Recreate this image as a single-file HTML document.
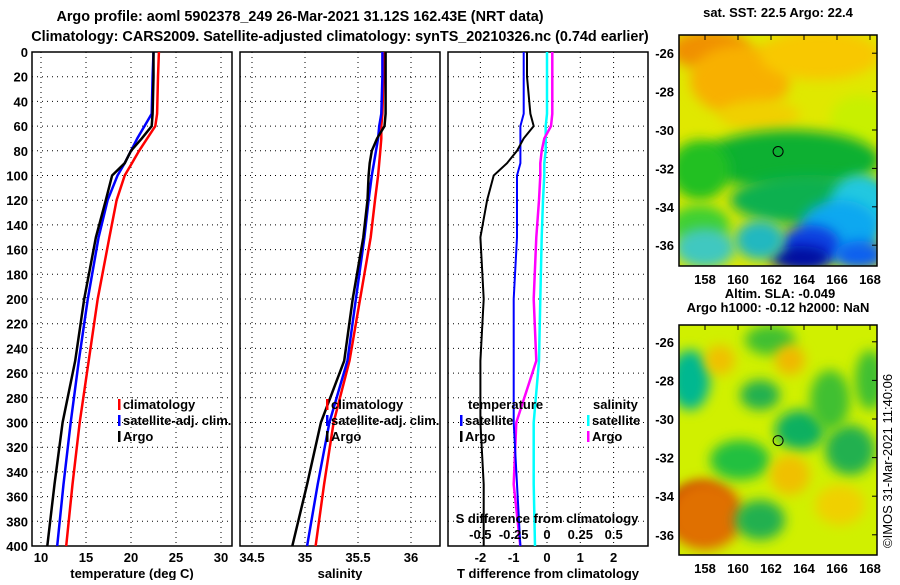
<!DOCTYPE html>
<html><head><meta charset="utf-8"><style>
body{margin:0;background:#fff;}
svg text{font-family:"Liberation Sans",sans-serif;font-weight:bold;font-size:13px;fill:#000;}
</style></head><body>
<svg id="c" width="900" height="580" xmlns="http://www.w3.org/2000/svg">
<text x="300" y="21" text-anchor="middle" style="font-size:14.4px">Argo profile: aoml 5902378_249 26-Mar-2021 31.12S 162.43E (NRT data)</text>
<text x="340" y="41" text-anchor="middle" style="font-size:14.4px">Climatology: CARS2009. Satellite-adjusted climatology: synTS_20210326.nc (0.74d earlier)</text>
<g id="maps"></g>
<g id="plots"></g>
</svg>
<script>
const depthTicks=[0,20,40,60,80,100,120,140,160,180,200,220,240,260,280,300,320,340,360,380,400];
const tTicks=[10,15,20,25,30];
const sTicks=[34.5,35,35.5,36];
const dTicks=[-2,-1,0,1,2];
const dsTicks=[-0.5,-0.25,0,0.25,0.5];
const tDepth=[0,20,50,60,70,80,90,100,120,150,200,250,300,350,400];
const tClim=[23.1,23.0,22.9,22.7,21.8,20.9,20.1,19.3,18.4,17.6,16.3,15.3,14.3,13.5,12.8];
const tSat=[22.5,22.4,22.3,21.5,20.7,20.0,19.3,18.5,17.4,16.4,15.2,14.2,13.3,12.5,11.8];
const tArgo=[22.5,22.5,22.4,22.3,21.2,20.0,19.3,17.9,17.2,16.1,14.8,13.8,12.4,11.5,10.7];
const sClim=[35.74,35.74,35.73,35.72,35.72,35.71,35.70,35.69,35.66,35.62,35.52,35.42,35.27,35.18,35.10];
const sSat=[35.73,35.73,35.72,35.70,35.69,35.67,35.65,35.63,35.60,35.56,35.48,35.40,35.23,35.12,35.02];
const sArgo=[35.76,35.76,35.76,35.75,35.68,35.63,35.61,35.60,35.59,35.55,35.45,35.37,35.15,35.02,34.88];
const dTsat=[-0.7,-0.7,-0.7,-0.8,-0.8,-0.8,-0.8,-0.9,-0.9,-0.9,-1.0,-1.0,-1.0,-0.9,-0.8];
const dTargo=[-0.6,-0.6,-0.5,-0.4,-0.7,-0.9,-1.2,-1.6,-1.8,-2.0,-1.9,-2.0,-2.0,-1.9,-1.9];
const dSsat=[0.0,0.0,0.0,-0.01,-0.01,-0.01,-0.02,-0.02,-0.03,-0.04,-0.05,-0.06,-0.1,-0.1,-0.09];
const dSargo=[0.04,0.04,0.04,0.03,-0.02,-0.04,-0.05,-0.05,-0.06,-0.08,-0.1,-0.08,-0.23,-0.25,-0.2];
const NS="http://www.w3.org/2000/svg";
const plots=document.getElementById('plots');
function el(t,a,p){const e=document.createElementNS(NS,t);for(const k in a)e.setAttribute(k,a[k]);(p||plots).appendChild(e);return e;}
const Y0=52,Y1=546;
const yD=d=>Y0+d*(Y1-Y0)/400;
function panel(name,x0,x1,ticks,xs,labels,xlabel){
  const g=el('g',{});
  
  
  el('rect',{x:x0,y:Y0,width:x1-x0,height:Y1-Y0,fill:'#fff',stroke:'#000','stroke-width':1.5},g);
  depthTicks.forEach(d=>{const l=el('line',{x1:x0,x2:x1,y1:yD(d),y2:yD(d),stroke:'#000','stroke-dasharray':'1,4'},g);
    });
  ticks.forEach((v,i)=>{const l=el('line',{x1:xs(v),x2:xs(v),y1:Y0,y2:Y1,stroke:'#000','stroke-dasharray':'1,4'},g);
    
    if(labels){const t=el('text',{x:xs(v),y:562,'text-anchor':'middle'},g);t.textContent=labels[i];
    }});
  const t=el('text',{x:(x0+x1)/2,y:578,'text-anchor':'middle'},g);t.textContent=xlabel;
  
  return g;
}
function line(g,vals,xs,col,w,name){
  const pts=vals.map((v,i)=>xs(v).toFixed(1)+','+yD(tDepth[i]).toFixed(1)).join(' ');
  const p=el('polyline',{points:pts,fill:'none',stroke:col,'stroke-width':w},g);
  
}
function legend(g,x,y,col,txt,name){
  el('rect',{x:x,y:y-10,width:2.5,height:11,fill:col},g);
  const t=el('text',{x:x+5,y:y},g);t.textContent=txt;
  
}
depthTicks.forEach(d=>{const t=el('text',{x:28,y:yD(d)+5,'text-anchor':'end'});t.textContent=d;
  });
const xT=v=>41+(v-10)*9;
let g=panel('temperature-panel',32,232,tTicks,xT,tTicks,'temperature (deg C)');
line(g,tClim,xT,'#f00',2.5,'climatology-temp-line');
line(g,tSat,xT,'#00f',2.5,'satellite-temp-line');
line(g,tArgo,xT,'#000',2.5,'argo-temp-line');
legend(g,118,409,'#f00','climatology','legend-climatology');
legend(g,118,425,'#00f','satellite-adj. clim.','legend-satellite');
legend(g,118,441,'#000','Argo','legend-argo');
const xS=v=>252+(v-34.5)*106;
g=panel('salinity-panel',240,440,sTicks,xS,['34.5','35','35.5','36'],'salinity');
line(g,sClim,xS,'#f00',2.5,'climatology-sal-line');
line(g,sSat,xS,'#00f',2.5,'satellite-sal-line');
line(g,sArgo,xS,'#000',2.5,'argo-sal-line');
legend(g,326,409,'#f00','climatology','legend-climatology');
legend(g,326,425,'#00f','satellite-adj. clim.','legend-satellite');
legend(g,326,441,'#000','Argo','legend-argo');
const xDT=v=>547+v*33.3;
const xDS=v=>547+v*133.3;
g=panel('difference-panel',448,648,dTicks,xDT,dTicks,'T difference from climatology');
line(g,dSsat,xDS,'#0ff',2.5,'satellite-sal-diff-line');
line(g,dSargo,xDS,'#f0f',2.5,'argo-sal-diff-line');
line(g,dTsat,xDT,'#00f',2,'satellite-temp-diff-line');
line(g,dTargo,xDT,'#000',2,'argo-temp-diff-line');
let t=el('text',{x:468,y:409},g);t.textContent='temperature';
t=el('text',{x:593,y:409},g);t.textContent='salinity';
legend(g,460,425,'#00f','satellite','legend-temp-satellite');
legend(g,460,441,'#000','Argo','legend-temp-argo');
legend(g,587,425,'#0ff','satellite','legend-sal-satellite');
legend(g,587,441,'#f0f','Argo','legend-sal-argo');
t=el('text',{x:547,y:523,'text-anchor':'middle'},g);t.textContent='S difference from climatology';
dsTicks.forEach(v=>{const tt=el('text',{x:xDS(v),y:539,'text-anchor':'middle'},g);
  tt.textContent=String(v);});

const maps=document.getElementById('maps');
const lonTicks=[158,160,162,164,166,168];
const xL=v=>705+(v-158)*16.5;
function map(name,y0,y1,latY,blobs,bg,title,titleY){
  const mg=el('g',{},maps);
  
  const id=name+'-clip';
  const cp=el('clipPath',{id:id},mg);el('rect',{x:679,y:y0,width:198,height:y1-y0},cp);
  const inner=el('g',{'clip-path':'url(#'+id+')'},mg);
  el('rect',{x:679,y:y0,width:198,height:y1-y0,fill:bg},inner);
  blobs.forEach(b=>el('ellipse',{cx:b[0],cy:b[1],rx:b[2],ry:b[3],fill:b[4],filter:'url(#blur)'},inner));
  el('rect',{x:679,y:y0,width:198,height:y1-y0,fill:'none',stroke:'#000','stroke-width':1.5},mg);
  const lat=[-26,-28,-30,-32,-34,-36];
  lat.forEach(v=>{const y=latY(v);el('line',{x1:877,x2:872,y1:y,y2:y,stroke:'#000'},mg);
    const tl=el('text',{x:674,y:y+5,'text-anchor':'end'},mg);tl.textContent=v;
    });
  lonTicks.forEach(v=>{el('line',{x1:xL(v),x2:xL(v),y1:y0,y2:y0+5,stroke:'#000'},mg);
    const tl=el('text',{x:xL(v),y:y1+18,'text-anchor':'middle'},mg);tl.textContent=v;
    });
  el('circle',{cx:xL(162.43),cy:latY(-31.12),r:5,fill:'none',stroke:'#000'},mg);
  const tt=el('text',{x:778,y:titleY,'text-anchor':'middle'},mg);tt.textContent=title;
  
}
const defs=el('defs',{},maps);const f=el('filter',{id:'blur',x:'-50%',y:'-50%',width:'200%',height:'200%'},defs);el('feGaussianBlur',{stdDeviation:6},f);
map('sst-map',35,266,v=>130-(v+30)*19.2,[
 [710,50,40,20,'#f09000'],[740,80,50,35,'#f8b000'],[820,55,60,25,'#f8c800'],[760,115,40,15,'#f0d000'],
 [860,120,30,25,'#c8f000'],[790,160,90,30,'#10b030'],[700,170,30,30,'#20c020'],[810,200,80,25,'#10b050'],
 [860,205,30,30,'#20c8e0'],[840,230,40,30,'#10a8f0'],[810,245,30,20,'#1040e0'],[800,258,30,12,'#0010a0'],
 [860,255,25,14,'#1060f0'],[700,225,30,20,'#40d030'],[705,248,30,20,'#40c8c0'],[760,240,25,20,'#20b8c0']],
 '#e0e800','sat. SST: 22.5 Argo: 22.4',17);
map('sla-map',325,555,v=>419-(v+30)*19.3,[
 [700,510,30,25,'#a00000'],[705,515,38,35,'#e07000'],[690,380,20,30,'#00b890'],[800,430,25,20,'#10b060'],
 [740,460,30,20,'#20c040'],[760,395,20,15,'#20b050'],[850,450,25,25,'#20b050'],[760,520,25,20,'#20b050'],
 [830,400,20,30,'#40c030'],[770,340,25,15,'#40c030'],[870,380,15,30,'#40c030'],[790,475,20,20,'#f0c000'],
 [720,360,15,15,'#f0c000'],[790,360,15,15,'#f0b800'],[840,505,25,20,'#f0d000']],
 '#d0f000','Argo h1000: -0.12 h2000: NaN',312);
t=el('text',{x:780,y:298,'text-anchor':'middle'},maps);t.textContent='Altim. SLA: -0.049';
t=el('text',{x:892,y:548,transform:'rotate(-90 892 548)',style:'font-weight:normal;font-size:13px'},maps);t.textContent='©IMOS 31-Mar-2021 11:40:06';
</script>
</body></html>
